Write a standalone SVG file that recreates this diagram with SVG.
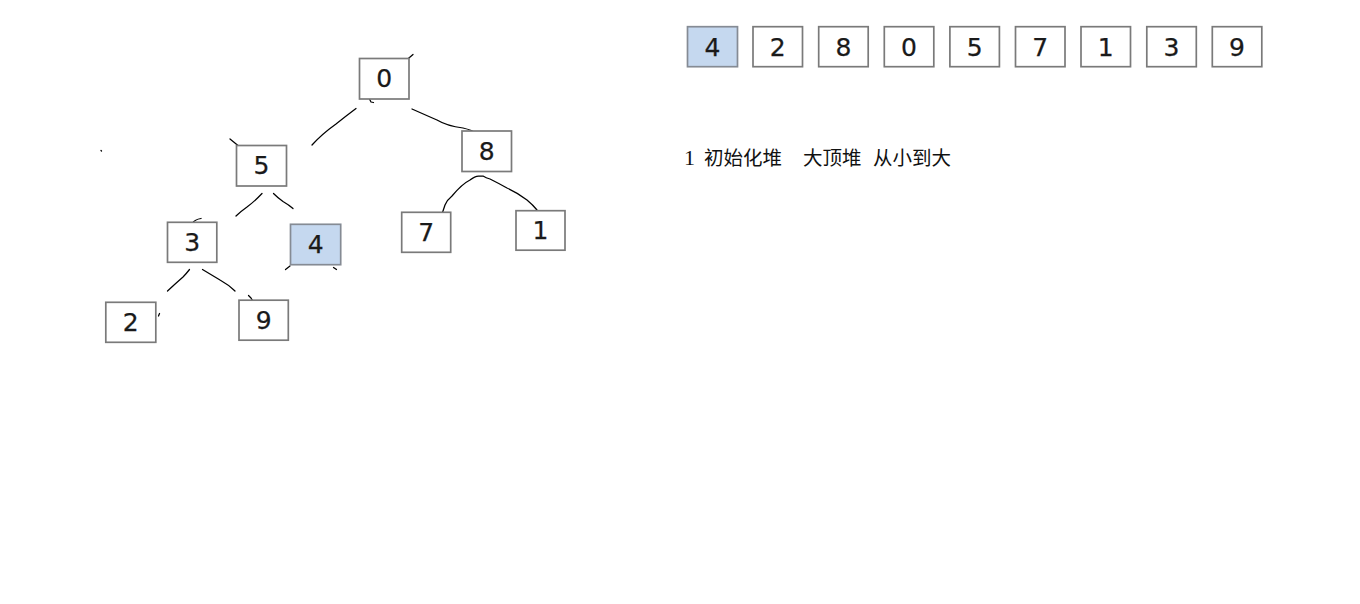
<svg xmlns="http://www.w3.org/2000/svg" width="1360" height="604" viewBox="0 0 1360 604">
<style>
.box{fill:#ffffff;stroke:#7a7a7a;stroke-width:1.7}
.hl{fill:#c5d8ef;stroke:#858b94;stroke-width:1.7}
.d{font-family:"DejaVu Sans",Verdana,sans-serif;font-size:25px;fill:#1a1a1a;stroke:#1a1a1a;stroke-width:0.25;text-anchor:middle}
.ln{fill:none;stroke:#000;stroke-width:1.25;stroke-linecap:round;stroke-linejoin:round}
.cap{font-family:"Liberation Serif","Noto Sans CJK SC",serif;font-size:19.5px;fill:#111}
</style>
<rect width="1360" height="604" fill="#ffffff"/>
<g id="connectors">
<path class="ln" d="M399,66.5 L413,54.5"/>
<path class="ln" d="M369.5,99 L371,102 L373.5,102.5"/>
<path class="ln" d="M356,108.5 Q346,116 336,124 Q322,134 312,145"/>
<path class="ln" d="M412,109 Q430,117 437,120 Q447,126 463,128 Q472,130 478,134"/>
<path class="ln" d="M230,139 L238,145.5 L246,150.5"/>
<path class="ln" d="M101,150.5 L101.5,151"/>
<path class="ln" d="M262,193.5 Q255,201 247,207 Q240,212 236,216"/>
<path class="ln" d="M273.5,193.5 Q278,198 283,201.5 Q289,205 293,208.5"/>
<path class="ln" d="M192.5,223 Q195,219.5 201,218.5"/>
<path class="ln" d="M285.5,269.5 L290,266"/>
<path class="ln" d="M333.5,267.5 L336.5,269.5"/>
<path class="ln" d="M189.5,269.5 Q186,274 183,277 Q175,284 167.5,291"/>
<path class="ln" d="M202.5,269.5 Q210,274 220,280 Q229,285 235,291"/>
<path class="ln" d="M248.5,295.5 L251,298 L253.5,302"/>
<path class="ln" d="M158.5,316 L159.5,313.5"/>
<path class="ln" d="M440,218 Q443,212 445,205 Q447,200 452,196 Q462,184 470,180 Q475,176 478.5,176 L483,176 Q486,178 490,179 Q498,183 507,188 Q518,193 527,200 Q533,205 537,210 Q540,214 541,218.5"/>
</g>
<g id="node-0"><rect class="box" x="359.5" y="58.5" width="49.5" height="40.5"/><text class="d" x="384.3" y="87">0</text></g>
<g id="node-5"><rect class="box" x="236.5" y="145.5" width="50" height="40.5"/><text class="d" x="261.5" y="173.5">5</text></g>
<g id="node-8"><rect class="box" x="462" y="131" width="49.5" height="40.5"/><text class="d" x="486.8" y="159.5">8</text></g>
<g id="node-3"><rect class="box" x="167.5" y="222.3" width="49.3" height="40"/><text class="d" x="192.2" y="250.5">3</text></g>
<g id="node-4"><rect class="hl" x="290.5" y="224.3" width="50.2" height="40.4"/><text class="d" x="315.6" y="252.5">4</text></g>
<g id="node-7"><rect class="box" x="401.7" y="212.3" width="49" height="40"/><text class="d" x="426.2" y="240.5">7</text></g>
<g id="node-1"><rect class="box" x="516" y="210.7" width="49" height="39.5"/><text class="d" x="540.5" y="239">1</text></g>
<g id="node-2"><rect class="box" x="105.8" y="302.3" width="50" height="40"/><text class="d" x="130.8" y="330.5">2</text></g>
<g id="node-9"><rect class="box" x="239" y="300.2" width="49.3" height="40"/><text class="d" x="263.6" y="328.5">9</text></g>
<g id="array">
<g id="arr-0"><rect class="hl" x="687.5" y="26.7" width="50" height="40"/><text class="d" x="712.5" y="55.5">4</text></g>
<g id="arr-1"><rect class="box" x="753" y="26.7" width="49.5" height="40"/><text class="d" x="777.8" y="55.5">2</text></g>
<g id="arr-2"><rect class="box" x="818.7" y="26.7" width="49.5" height="40"/><text class="d" x="843.4" y="55.5">8</text></g>
<g id="arr-3"><rect class="box" x="884.3" y="26.7" width="49.5" height="40"/><text class="d" x="909" y="55.5">0</text></g>
<g id="arr-4"><rect class="box" x="949.9" y="26.7" width="49.5" height="40"/><text class="d" x="974.6" y="55.5">5</text></g>
<g id="arr-5"><rect class="box" x="1015.5" y="26.7" width="49.5" height="40"/><text class="d" x="1040.2" y="55.5">7</text></g>
<g id="arr-6"><rect class="box" x="1081" y="26.7" width="49.5" height="40"/><text class="d" x="1105.7" y="55.5">1</text></g>
<g id="arr-7"><rect class="box" x="1146.8" y="26.7" width="49.5" height="40"/><text class="d" x="1171.5" y="55.5">3</text></g>
<g id="arr-8"><rect class="box" x="1212.3" y="26.7" width="49.5" height="40"/><text class="d" x="1237" y="55.5">9</text></g>
</g>
<text class="cap" y="164.5"><tspan x="684" style="font-size:22px">1</tspan><tspan x="704">初始化堆</tspan><tspan x="803">大顶堆</tspan><tspan x="873">从小到大</tspan></text>
</svg>
